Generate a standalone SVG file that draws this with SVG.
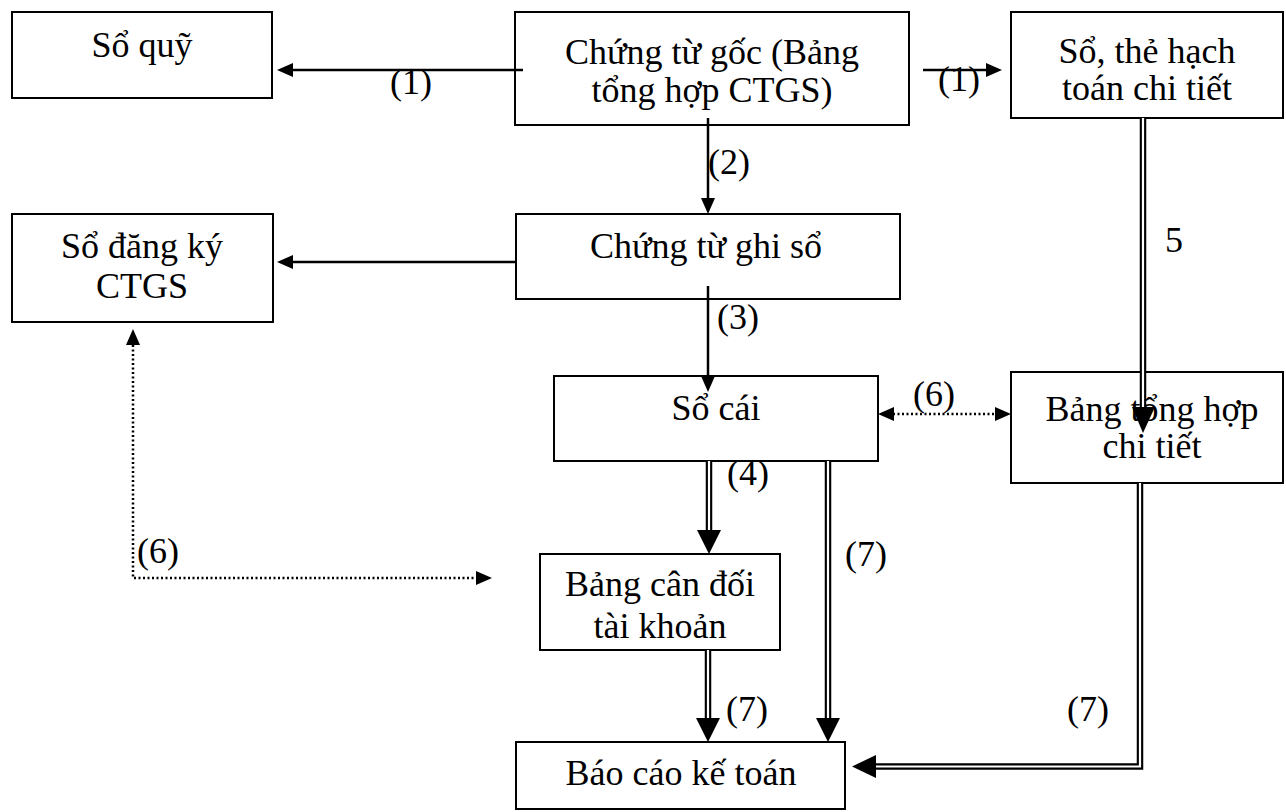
<svg xmlns="http://www.w3.org/2000/svg" width="1286" height="812" viewBox="0 0 1286 812">
<style>
.box{fill:#fff;stroke:#000;stroke-width:2}
.t{font-family:"Liberation Serif","Times New Roman",serif;font-size:36px;fill:#000;text-anchor:middle}
.ln{stroke:#000;stroke-width:2.5;fill:none}
.dot{stroke:#000;stroke-width:2.5;fill:none;stroke-dasharray:2 2.5}
.dbo{stroke:#000;stroke-width:6.5;fill:none;stroke-linejoin:miter}
.dbi{stroke:#fff;stroke-width:2.2;fill:none;stroke-linejoin:miter}
.ah{fill:#000}
</style>
<rect width="1286" height="812" fill="#fff"/>
<g id="so-quy">
  <rect class="box" x="12" y="12" width="260" height="86"/>
  <text class="t" x="142" y="57">Sổ quỹ</text>
</g>
<g id="chung-tu-goc">
  <rect class="box" x="515" y="12" width="394" height="113"/>
  <text class="t" x="712" y="64">Chứng từ gốc (Bảng</text>
  <text class="t" x="712" y="102">tổng hợp CTGS)</text>
</g>
<g id="so-the-hach-toan">
  <rect class="box" x="1011" y="12" width="272" height="106"/>
  <text class="t" x="1147" y="63">Sổ, thẻ hạch</text>
  <text class="t" x="1147" y="100">toán chi tiết</text>
</g>
<g id="so-dang-ky">
  <rect class="box" x="12" y="214" width="261" height="108"/>
  <text class="t" x="142" y="258">Sổ đăng ký</text>
  <text class="t" x="142" y="298">CTGS</text>
</g>
<g id="chung-tu-ghi-so">
  <rect class="box" x="516" y="214" width="384" height="85"/>
  <text class="t" x="706" y="258">Chứng từ ghi sổ</text>
</g>
<g id="so-cai">
  <rect class="box" x="554" y="376" width="324" height="85"/>
  <text class="t" x="716" y="420">Sổ cái</text>
</g>
<g id="bang-tong-hop-chi-tiet">
  <rect class="box" x="1011" y="372" width="272" height="111"/>
  <text class="t" x="1152" y="421">Bảng tổng hợp</text>
  <text class="t" x="1152" y="458">chi tiết</text>
</g>
<g id="bang-can-doi">
  <rect class="box" x="540" y="554" width="240" height="96"/>
  <text class="t" x="660" y="596">Bảng cân đối</text>
  <text class="t" x="660" y="638">tài khoản</text>
</g>
<g id="bao-cao-ke-toan">
  <rect class="box" x="516" y="742" width="329" height="67"/>
  <text class="t" x="681" y="785">Báo cáo kế toán</text>
</g>
<g id="connectors">
  <line class="ln" x1="523" y1="70" x2="292" y2="70"/>
  <polygon class="ah" points="277,70 293,63 293,77"/>
  <line class="ln" x1="923" y1="70" x2="988" y2="70"/>
  <polygon class="ah" points="1002,70 986,63 986,77"/>
  <line class="ln" x1="708" y1="118" x2="708" y2="200"/>
  <polygon class="ah" points="708,214 701,198 715,198"/>
  <line class="ln" x1="516" y1="262" x2="292" y2="262"/>
  <polygon class="ah" points="277,262 293,255 293,269"/>
  <line class="ln" x1="708" y1="286" x2="708" y2="378"/>
  <polygon class="ah" points="708,392 701,376 715,376"/>
  <path class="dot" d="M478,578 H133 V344"/>
  <polygon class="ah" points="133,329 126,345 140,345"/>
  <polygon class="ah" points="492,578 476,571 476,585"/>
  <line class="dot" x1="893" y1="414" x2="996" y2="414"/>
  <polygon class="ah" points="878,414 894,407 894,421"/>
  <polygon class="ah" points="1011,414 995,407 995,421"/>
  <line class="dbo" x1="1143" y1="118" x2="1143" y2="410"/>
  <line class="dbi" x1="1143" y1="118" x2="1143" y2="410"/>
  <polygon class="ah" points="1143,433 1132,407 1155,407"/>
  <line class="dbo" x1="709" y1="461" x2="709" y2="532"/>
  <line class="dbi" x1="709" y1="461" x2="709" y2="532"/>
  <polygon class="ah" points="709,554 697,530 721,530"/>
  <line class="dbo" x1="828" y1="461" x2="828" y2="720"/>
  <line class="dbi" x1="828" y1="461" x2="828" y2="720"/>
  <polygon class="ah" points="828,742 816,718 840,718"/>
  <line class="dbo" x1="708" y1="650" x2="708" y2="720"/>
  <line class="dbi" x1="708" y1="650" x2="708" y2="720"/>
  <polygon class="ah" points="708,742 696,718 720,718"/>
  <path class="dbo" d="M1140,483 V766.5 H873"/>
  <path class="dbi" d="M1140,483 V766.5 H873"/>
  <polygon class="ah" points="852,766.5 876,755 876,778"/>
</g>
<g id="labels">
  <text class="t" x="411" y="94">(1)</text>
  <text class="t" x="959" y="91">(1)</text>
  <text class="t" x="729" y="174">(2)</text>
  <text class="t" x="738" y="329">(3)</text>
  <text class="t" x="1174" y="252">5</text>
  <text class="t" x="934" y="406">(6)</text>
  <text class="t" x="748" y="485">(4)</text>
  <text class="t" x="158" y="563">(6)</text>
  <text class="t" x="866" y="566">(7)</text>
  <text class="t" x="747" y="721">(7)</text>
  <text class="t" x="1088" y="721">(7)</text>
</g>
</svg>
